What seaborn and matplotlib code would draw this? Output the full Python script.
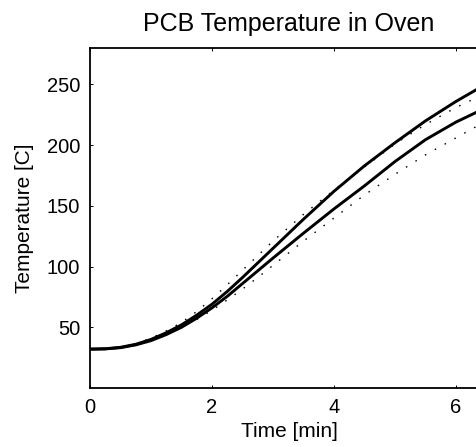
import matplotlib
matplotlib.use('Agg')
import matplotlib.pyplot as plt
import seaborn as sns

# time in minutes
time_min = [0, 0.25, 0.5, 0.75, 1.0, 1.25, 1.5, 1.75, 2.0, 2.25, 2.5, 2.75, 3.0,
            3.5, 4.0, 4.5, 5.0, 5.5, 6.0, 6.5]

# solid curves (upper / lower)
temp_upper = [32, 32.3, 33.5, 36, 40, 45.5, 52, 60, 69, 79.5, 91, 103, 115,
              139, 162, 183, 202, 220, 236, 250.5]
temp_lower = [32, 32.2, 33.2, 35.5, 39, 44, 50, 57.5, 66, 75.5, 86, 96.5, 107,
              127.5, 147.5, 166.5, 186.5, 204.5, 219, 231]

# dotted curves (upper / lower)
dot_upper = [32, 32.3, 33.7, 36.5, 41, 47, 54, 63, 73.5, 85, 97, 109, 121,
             143, 163, 182, 201, 217, 231, 243]
dot_lower = [32, 32.2, 33.2, 35.5, 39, 44, 50, 56.5, 64, 72.5, 81.5, 91, 101,
             121, 140, 159, 176, 192, 206, 220]

sns.set_style('ticks')
plt.rcParams['font.family'] = ['Liberation Sans', 'DejaVu Sans']
for key in ['text.color', 'axes.labelcolor', 'xtick.color', 'ytick.color',
            'axes.edgecolor']:
    plt.rcParams[key] = 'black'

fig = plt.figure(figsize=(4.77, 4.47), dpi=100)
# axes runs a little past the right edge, as in the cropped original
ax = fig.add_axes([90 / 477, 1 - 388 / 447, 398 / 477, 340 / 447])

sns.lineplot(x=time_min, y=dot_upper, ax=ax, color='black', linewidth=1.0,
             linestyle=(0, (1.1, 7)))
sns.lineplot(x=time_min, y=dot_lower, ax=ax, color='black', linewidth=1.0,
             linestyle=(0, (1.1, 7)))
sns.lineplot(x=time_min, y=temp_upper, ax=ax, color='black', linewidth=2.1)
sns.lineplot(x=time_min, y=temp_lower, ax=ax, color='black', linewidth=2.1)

ax.set_xlim(0, 398 / 61)
ax.set_ylim(0, 280)
ax.set_xticks([0, 2, 4, 6])
ax.set_yticks([50, 100, 150, 200, 250])
ax.tick_params(direction='in', length=2.5, width=0.7, labelsize=14.5,
               top=True, right=True, pad=7)
for sp in ax.spines.values():
    sp.set_linewidth(1.3)
    sp.set_visible(True)

ax.set_xlabel('Time [min]', fontsize=15, labelpad=4)
ax.set_ylabel('Temperature [C]', fontsize=15, labelpad=9)
ax.set_title('PCB Temperature in Oven', fontsize=18, pad=12)

fig.savefig('out.png', dpi=100)
